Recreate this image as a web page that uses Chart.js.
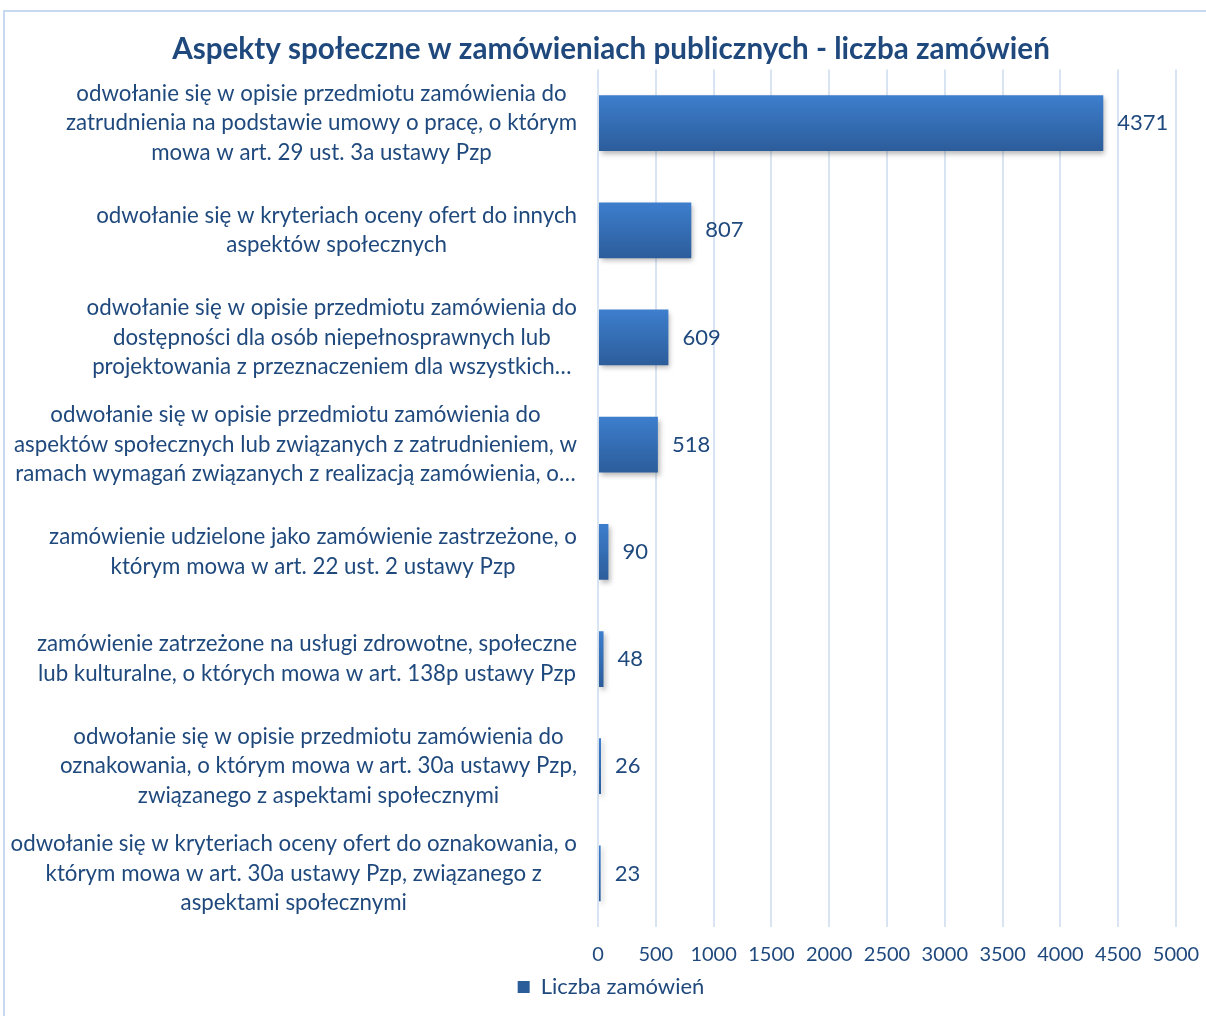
<!DOCTYPE html>
<html>
<head>
<meta charset="utf-8">
<script src="https://cdn.jsdelivr.net/npm/chart.js@4"></script>
<style>
  body { margin: 0; background: #fff; }
  #wrap { position: relative; width: 1206px; height: 1016px; }
</style>
</head>
<body>
<div id="wrap"><canvas id="chart" width="1206" height="1016"></canvas></div>
<script>
const categories = [
    ['odwołanie się w opisie przedmiotu zamówienia do', 'zatrudnienia na podstawie umowy o pracę, o którym', 'mowa w art. 29 ust. 3a ustawy Pzp'],
    ['odwołanie się w kryteriach oceny ofert do innych', 'aspektów społecznych'],
    ['odwołanie się w opisie przedmiotu zamówienia do', 'dostępności dla osób niepełnosprawnych lub', 'projektowania z przeznaczeniem dla wszystkich…'],
    ['odwołanie się w opisie przedmiotu zamówienia do', 'aspektów społecznych lub związanych z zatrudnieniem, w', 'ramach wymagań związanych z realizacją zamówienia, o…'],
    ['zamówienie udzielone jako zamówienie zastrzeżone, o', 'którym mowa w art. 22 ust. 2 ustawy Pzp'],
    ['zamówienie zatrzeżone na usługi zdrowotne, społeczne', 'lub kulturalne, o których mowa w art. 138p ustawy Pzp'],
    ['odwołanie się w opisie przedmiotu zamówienia do', 'oznakowania, o którym mowa w art. 30a ustawy Pzp,', 'związanego z aspektami społecznymi'],
    ['odwołanie się w kryteriach oceny ofert do oznakowania, o', 'którym mowa w art. 30a ustawy Pzp, związanego z', 'aspektami społecznymi']
];
const orders = [4371, 807, 609, 518, 90, 48, 26, 23];
const seriesName = 'Liczba zamówień';
const xTicks = [0, 500, 1000, 1500, 2000, 2500, 3000, 3500, 4000, 4500, 5000];

const textColor = '#1f497d';
const fontFamily = 'Lato, "Noto Sans", sans-serif';
const labelFont = '22.3px ' + fontFamily;

// frame round the whole chart
const framePlugin = {
    id: 'frame',
    beforeDraw(chart) {
        const ctx = chart.ctx;
        ctx.save();
        ctx.strokeStyle = '#c6d9f1';
        ctx.lineWidth = 2;
        ctx.strokeRect(4, 11, 1210, 1020);
        ctx.restore();
    }
};

// category labels: each block right-aligned, lines centred inside the block
const catLabelsPlugin = {
    id: 'catLabels',
    afterDraw(chart) {
        const ctx = chart.ctx;
        const y = chart.scales.y;
        const rightEdge = chart.chartArea.left - 21;
        const lineH = 29.5;
        ctx.save();
        ctx.font = labelFont;
        ctx.fillStyle = textColor;
        ctx.textAlign = 'center';
        ctx.textBaseline = 'middle';
        categories.forEach((lines, i) => {
            const widest = Math.max(...lines.map(l => ctx.measureText(l).width));
            const cx = rightEdge - widest / 2;
            const cy = y.getPixelForTick(i);
            lines.forEach((l, k) => {
                ctx.fillText(l, cx, cy + (k - (lines.length - 1) / 2) * lineH);
            });
        });
        ctx.restore();
    }
};

// value labels at the end of each bar
const valueLabelsPlugin = {
    id: 'valueLabels',
    afterDatasetsDraw(chart) {
        const ctx = chart.ctx;
        const meta = chart.getDatasetMeta(0);
        ctx.save();
        ctx.font = '22px ' + fontFamily;
        ctx.fillStyle = textColor;
        ctx.textAlign = 'left';
        ctx.textBaseline = 'middle';
        meta.data.forEach((bar, i) => {
            ctx.fillText(String(orders[i]), bar.x + 14, bar.y);
        });
        ctx.restore();
    }
};

// soft shadow under the bars
const shadowPlugin = {
    id: 'barShadow',
    beforeDatasetsDraw(chart) {
        const ctx = chart.ctx;
        ctx.save();
        ctx.shadowColor = 'rgba(0, 0, 0, 0.28)';
        ctx.shadowBlur = 5;
        ctx.shadowOffsetX = 2;
        ctx.shadowOffsetY = 3;
    },
    afterDatasetsDraw(chart) {
        chart.ctx.restore();
    }
};

function barFill(context) {
    const chart = context.chart;
    const area = chart.chartArea;
    if (!area || context.dataIndex === undefined) return '#3a72b8';
    const cy = chart.scales.y.getPixelForTick(context.dataIndex);
    const half = (area.height / categories.length) * 0.52 / 2;
    const g = chart.ctx.createLinearGradient(0, cy - half, 0, cy + half);
    g.addColorStop(0, '#3d7ecd');
    g.addColorStop(1, '#2c5d9b');
    return g;
}

const ctx = document.getElementById('chart').getContext('2d');
new Chart(ctx, {
    type: 'bar',
    data: {
        labels: categories,
        datasets: [{
            label: seriesName,
            data: orders,
            backgroundColor: barFill,
            borderWidth: 0,
            categoryPercentage: 1,
            barPercentage: 0.52
        }]
    },
    options: {
        indexAxis: 'y',
        responsive: false,
        animation: false,
        layout: { padding: { top: 19, right: 14, left: 30, bottom: 8 } },
        scales: {
            x: {
                min: 0,
                max: 5000,
                afterBuildTicks(scale) {
                    scale.ticks = xTicks.map(v => ({ value: v }));
                },
                afterFit(scale) {
                    scale.height = 40;
                    scale.paddingRight = 30;
                    scale.paddingLeft = 0;
                },
                grid: { color: '#d9e4f2', lineWidth: 2, drawTicks: false },
                border: { display: false },
                ticks: {
                    color: textColor,
                    font: { family: fontFamily, size: 20 },
                    padding: 16,
                    maxRotation: 0,
                    autoSkip: false,
                    callback: v => String(v)
                }
            },
            y: {
                afterFit(scale) { scale.width = 568; },
                grid: { display: false },
                border: { display: false },
                ticks: { display: false }
            }
        },
        plugins: {
            title: {
                display: true,
                text: 'Aspekty społeczne w zamówieniach publicznych - liczba zamówień',
                color: textColor,
                font: { family: fontFamily, size: 29.6, weight: 'bold' },
                padding: { top: 13, bottom: 2 }
            },
            legend: {
                position: 'bottom',
                labels: {
                    color: textColor,
                    font: { family: fontFamily, size: 22 },
                    boxWidth: 12,
                    boxHeight: 12,
                    padding: 9
                }
            },
            tooltip: { enabled: false }
        }
    },
    plugins: [framePlugin, shadowPlugin, valueLabelsPlugin, catLabelsPlugin]
});
</script>
</body>
</html>
